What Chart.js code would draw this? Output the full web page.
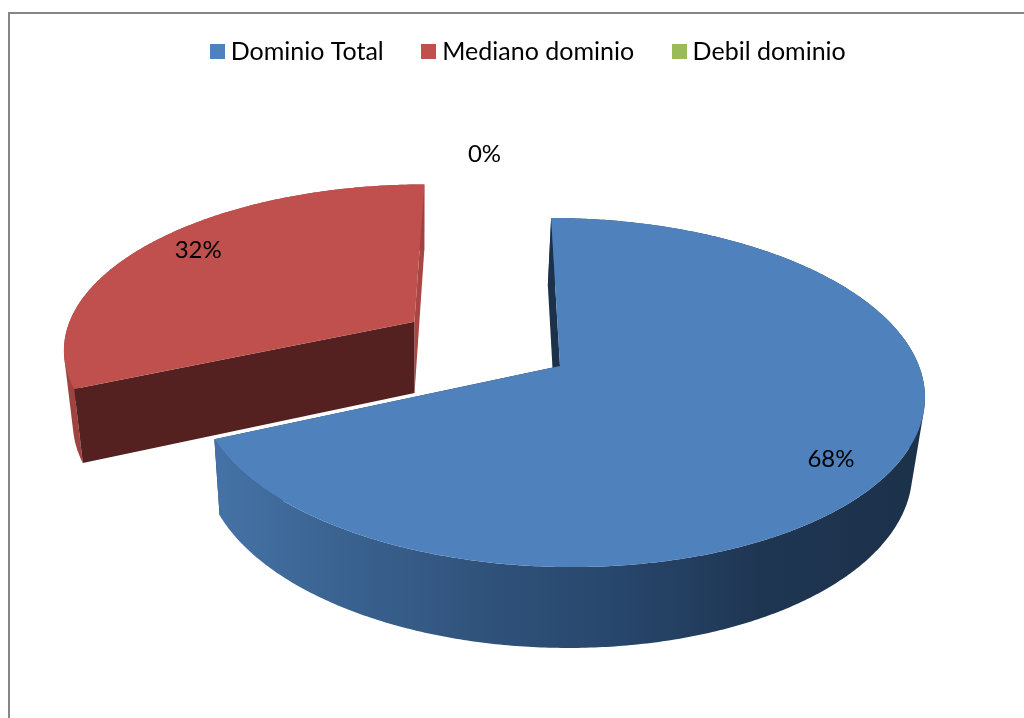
<!DOCTYPE html>
<html>
<head>
<meta charset="utf-8">
<script src="https://cdn.jsdelivr.net/npm/chart.js@4"></script>
<style>
  html, body { margin: 0; padding: 0; background: #fff; overflow: hidden; width: 1024px; height: 718px; }
  #frame { position: absolute; left: 8px; top: 12px; width: 1100px; height: 800px; border: 2px solid #868686; }
  canvas { position: absolute; left: 0; top: 0; }
</style>
</head>
<body>
<div id="frame"></div>
<canvas id="pie" width="1062" height="718"></canvas>
<script>
const categories = ["Dominio Total", "Mediano dominio", "Debil dominio"];
const values = [68.4, 31.6, 0];
const colors = ["#4f81bd", "#c0504d", "#9bbb59"];

// etiquetas: radio relativo y giro en grados respecto al centro del sector
const labelRadius = [0.85, 0.84, 1.55];
const labelTurn = [3.5, 2, -8];

// perspectiva del pastel 3D
const view = { cx: 560, cy: 366, rx: 359, ry: 170.5, k: 0.152, shear: 0.06 };

function swatch(color) {
  const c = document.createElement("canvas");
  c.width = 15;
  c.height = 15;
  const g = c.getContext("2d");
  g.fillStyle = color;
  g.fillRect(0, 0, 15, 15);
  return c;
}

function project(el, angle, rad) {
  const mid = (el.startAngle + el.endAngle) / 2;
  const off = (el.options.offset || 0) / el.outerRadius;
  const ux = Math.cos(angle) * rad + Math.cos(mid) * off;
  const uy = -Math.sin(angle) * rad - Math.sin(mid) * off;
  const f = 1 / (1 + view.k * uy);
  const dy = -view.ry * uy * f;
  const dx = view.rx * ux * f + view.shear * dy;
  return { x: view.cx + dx, y: view.cy + dy };
}

// la cara inferior del cilindro
function lower(p) {
  return {
    x: view.cx + (p.x - view.cx) * 0.975 - 3.5,
    y: p.y + 66 + 0.039 * (p.y - 185),
  };
}

function rim(el) {
  const pts = [];
  const n = Math.max(2, Math.ceil((el.endAngle - el.startAngle) / 0.01));
  for (let i = 0; i <= n; i++) {
    pts.push(project(el, el.startAngle + (el.endAngle - el.startAngle) * i / n, 1));
  }
  return pts;
}

function fillPoly(ctx, pts, fill) {
  ctx.beginPath();
  pts.forEach((p, i) => (i ? ctx.lineTo(p.x, p.y) : ctx.moveTo(p.x, p.y)));
  ctx.closePath();
  ctx.fillStyle = fill;
  ctx.fill();
}

// pared exterior: todos los trozos con el mismo sentido, para que no se anulen al doblar
function fillWall(ctx, top, fill) {
  ctx.beginPath();
  for (let i = 0; i < top.length - 1; i++) {
    const a = top[i], b = top[i + 1], c = lower(b), d = lower(a);
    const area = (b.x - a.x) * (c.y - a.y) - (b.y - a.y) * (c.x - a.x);
    const quad = area > 0 ? [a, b, c, d] : [d, c, b, a];
    ctx.moveTo(quad[0].x, quad[0].y);
    quad.slice(1).forEach(p => ctx.lineTo(p.x, p.y));
    ctx.closePath();
  }
  ctx.fillStyle = fill;
  ctx.fill();
}

function drawSlice(ctx, el, side, wallA, wallB) {
  const top = rim(el);
  const apex = project(el, el.startAngle, 0);
  const first = top[0];
  const last = top[top.length - 1];

  fillPoly(ctx, [apex, last, lower(last), lower(apex)], wallB);
  fillWall(ctx, top, side);
  fillPoly(ctx, [apex, first, lower(first), lower(apex)], wallA);
  fillPoly(ctx, [apex].concat(top), el.options.backgroundColor);
}

const pie3d = {
  id: "pie3d",
  beforeDatasetsDraw(chart) {
    const ctx = chart.ctx;
    const arcs = chart.getDatasetMeta(0).data;

    const blueSide = ctx.createLinearGradient(220, 0, 912, 0);
    blueSide.addColorStop(0, "#4572a6");
    blueSide.addColorStop(0.12, "#3d6797");
    blueSide.addColorStop(0.4, "#2f5179");
    blueSide.addColorStop(0.58, "#27466b");
    blueSide.addColorStop(0.78, "#1f3653");
    blueSide.addColorStop(1, "#1c314a");

    ctx.save();
    drawSlice(ctx, arcs[1], "#9f4340", "#542120", "#a84643");
    drawSlice(ctx, arcs[0], blueSide, "#1c314a", "#1c314a");

    ctx.fillStyle = "#000";
    ctx.font = "24px Lato";
    ctx.textAlign = "center";
    ctx.textBaseline = "middle";
    arcs.forEach((el, i) => {
      const mid = (el.startAngle + el.endAngle) / 2 + labelTurn[i] * Math.PI / 180;
      const p = project(el, mid, labelRadius[i]);
      ctx.fillText(Math.round(values[i]) + "%", p.x, p.y);
    });
    ctx.restore();
    return false;
  },
};

new Chart(document.getElementById("pie"), {
  type: "pie",
  data: {
    labels: categories,
    datasets: [{
      data: values,
      backgroundColor: colors,
      borderWidth: 0,
      offset: [0, 99, 0],
    }],
  },
  plugins: [pie3d],
  options: {
    responsive: false,
    animation: false,
    radius: 200,
    layout: { padding: { top: -5 } },
    plugins: {
      tooltip: { enabled: false },
      legend: {
        position: "top",
        labels: {
          color: "#000",
          font: { family: "Lato", size: 25 },
          usePointStyle: true,
          boxWidth: 2,
          padding: 44,
          generateLabels(chart) {
            return Chart.overrides.pie.plugins.legend.labels.generateLabels(chart)
              .map((item, i) => ({ ...item, pointStyle: swatch(colors[i]) }));
          },
        },
      },
    },
  },
});
</script>
</body>
</html>
